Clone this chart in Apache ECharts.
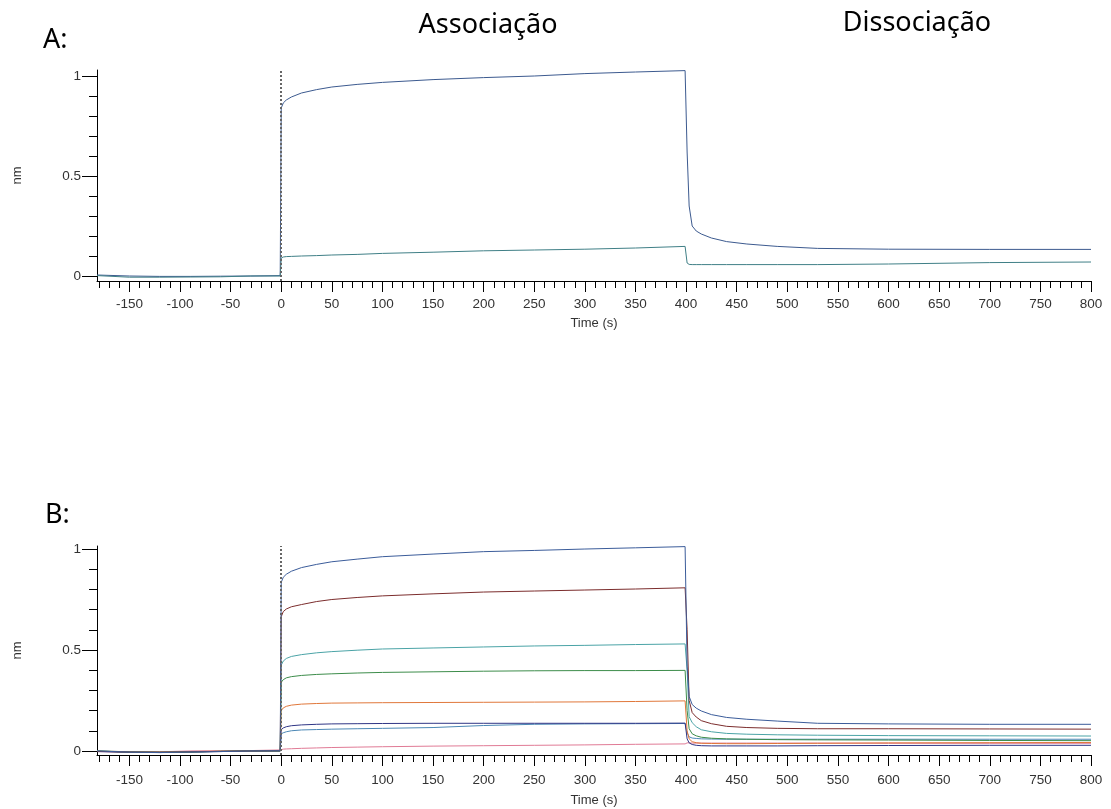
<!DOCTYPE html>
<html>
<head>
<meta charset="utf-8">
<title>Associação / Dissociação</title>
<script src="https://cdn.jsdelivr.net/npm/echarts@6/dist/echarts.min.js"></script>
<style>
  html, body { margin: 0; padding: 0; background: #fff; }
  .sensor { width: 1111px; height: 809px; }
</style>
</head>
<body>
<div class="sensor"></div>
<script>
// time points (s), shared by every curve
var times = [-182, -150, -120, -90, -60, -30, -1,
  0, 2, 5, 10, 20, 35, 50, 75, 100, 150, 200, 250, 300, 350, 399,
  400, 401, 403, 406, 410, 415, 425, 440, 460, 490, 530, 600, 700, 800];

// panel A (nm)
var a1 = [0.005, 0.0, -0.002, -0.002, -0.001, 0.0, 0.002,
  0.84, 0.865, 0.88, 0.895, 0.915, 0.932, 0.945, 0.958, 0.968, 0.982, 0.992, 1.0, 1.012, 1.02, 1.027,
  1.027, 0.62, 0.35, 0.25, 0.225, 0.21, 0.19, 0.172, 0.16, 0.148, 0.138, 0.134, 0.133, 0.133];
var a2 = [0.002, -0.006, -0.006, -0.005, -0.004, 0.0, 0.0,
  0.09, 0.095, 0.097, 0.098, 0.1, 0.102, 0.105, 0.108, 0.113, 0.119, 0.126, 0.13, 0.134, 0.14, 0.148,
  0.148, 0.065, 0.058, 0.057, 0.057, 0.057, 0.057, 0.057, 0.057, 0.057, 0.057, 0.06, 0.067, 0.07];

// panel B (nm)
var b1 = [0.0, -0.006, -0.008, -0.005, -0.003, 0.0, 0.001,
  0.835, 0.86, 0.875, 0.89, 0.908, 0.924, 0.937, 0.95, 0.962, 0.975, 0.987, 0.993, 1.0, 1.006, 1.012,
  1.015, 0.42, 0.27, 0.23, 0.212, 0.198, 0.18, 0.166, 0.157, 0.148, 0.137, 0.134, 0.132, 0.132];
var b2 = [-0.002, -0.005, -0.006, -0.004, -0.002, 0.0, 0.001,
  0.665, 0.69, 0.703, 0.714, 0.725, 0.74, 0.75, 0.76, 0.768, 0.778, 0.787, 0.792, 0.797, 0.802, 0.808,
  0.808, 0.6, 0.25, 0.19, 0.168, 0.15, 0.135, 0.122, 0.116, 0.112, 0.11, 0.11, 0.109, 0.108];
var b3 = [0.0, -0.004, -0.006, -0.004, -0.002, 0.0, 0.001,
  0.425, 0.445, 0.458, 0.468, 0.477, 0.486, 0.492, 0.499, 0.505, 0.51, 0.515, 0.52, 0.523, 0.527, 0.53,
  0.53, 0.4, 0.17, 0.14, 0.12, 0.105, 0.095, 0.087, 0.083, 0.08, 0.078, 0.076, 0.075, 0.074];
var b4 = [-0.001, -0.005, -0.007, -0.005, -0.002, 0.0, 0.0,
  0.34, 0.353, 0.362, 0.368, 0.374, 0.379, 0.382, 0.386, 0.389, 0.392, 0.395, 0.397, 0.398, 0.398, 0.399,
  0.399, 0.2, 0.11, 0.085, 0.075, 0.068, 0.063, 0.06, 0.058, 0.056, 0.055, 0.054, 0.052, 0.051];
var b5 = [0.0, -0.004, -0.005, -0.003, -0.001, 0.0, 0.001,
  0.2, 0.213, 0.221, 0.227, 0.232, 0.235, 0.237, 0.238, 0.239, 0.24, 0.241, 0.242, 0.243, 0.245, 0.248,
  0.248, 0.1, 0.06, 0.046, 0.041, 0.038, 0.037, 0.036, 0.036, 0.037, 0.038, 0.04, 0.041, 0.042];
var b6 = [-0.003, -0.007, -0.008, -0.006, -0.003, 0.0, 0.0,
  0.105, 0.114, 0.12, 0.125, 0.129, 0.132, 0.134, 0.135, 0.136, 0.137, 0.137, 0.137, 0.137, 0.137, 0.138,
  0.138, 0.06, 0.04, 0.032, 0.028, 0.026, 0.025, 0.025, 0.025, 0.025, 0.026, 0.027, 0.028, 0.028];
var b7 = [0.0, -0.005, -0.006, -0.004, -0.002, 0.0, 0.0,
  0.085, 0.09, 0.095, 0.1, 0.104, 0.106, 0.108, 0.11, 0.112, 0.116, 0.126, 0.132, 0.134, 0.135, 0.136,
  0.136, 0.09, 0.07, 0.064, 0.062, 0.06, 0.059, 0.058, 0.058, 0.058, 0.058, 0.058, 0.058, 0.058];
var b8 = [-0.003, -0.005, -0.004, 0.0, 0.001, 0.002, 0.005,
  0.008, 0.009, 0.01, 0.011, 0.013, 0.015, 0.017, 0.019, 0.021, 0.024, 0.026, 0.028, 0.03, 0.033, 0.035,
  0.035, 0.04, 0.04, 0.039, 0.039, 0.039, 0.039, 0.039, 0.039, 0.039, 0.039, 0.038, 0.038, 0.038];

// tick labels
var xMajor = [-150, -100, -50, 0, 50, 100, 150, 200, 250, 300, 350, 400, 450, 500, 550, 600, 650, 700, 750, 800];
var xMinor = [-180, -170, -160, -150, -140, -130, -120, -110, -100, -90, -80, -70, -60, -50, -40, -30, -20, -10,
  0, 10, 20, 30, 40, 50, 60, 70, 80, 90, 100, 110, 120, 130, 140, 150, 160, 170, 180, 190, 200,
  210, 220, 230, 240, 250, 260, 270, 280, 290, 300, 310, 320, 330, 340, 350, 360, 370, 380, 390, 400,
  410, 420, 430, 440, 450, 460, 470, 480, 490, 500, 510, 520, 530, 540, 550, 560, 570, 580, 590, 600,
  610, 620, 630, 640, 650, 660, 670, 680, 690, 700, 710, 720, 730, 740, 750, 760, 770, 780, 790, 800];
var yMajor = [0, 0.5, 1];
var yMinor = [0.1, 0.2, 0.3, 0.4, 0.6, 0.7, 0.8, 0.9];

(function () {
  var myChart = echarts.init(document.querySelector('.sensor'));

  var labelFont = 'Liberation Sans, Arial, sans-serif';
  var bigFont = '27px "Noto Sans", sans-serif';

  function pairs(vals) {
    return times.map(function (t, i) { return [t, vals[i]]; });
  }

  // bottom axes: one for minor ticks + line, one for long ticks + labels
  function xAxes(grid, gap, margin) {
    return [
      {
        type: 'value', gridIndex: grid, position: 'bottom', min: -182, max: 800,
        axisLine: { onZero: false, lineStyle: { color: '#000', width: 1 } },
        axisTick: { customValues: xMinor, length: 7, lineStyle: { color: '#000' } },
        axisLabel: { show: false },
        splitLine: { show: false }
      },
      {
        type: 'value', gridIndex: grid, position: 'bottom', min: -182, max: 800,
        axisLine: { show: false, onZero: false },
        axisTick: { customValues: xMajor, length: 11, lineStyle: { color: '#000' } },
        axisLabel: { customValues: xMajor, margin: margin, color: '#333', fontSize: 13.5, fontFamily: labelFont },
        splitLine: { show: false },
        name: 'Time (s)', nameLocation: 'middle', nameGap: gap,
        nameTextStyle: { color: '#333', fontSize: 13, fontFamily: labelFont }
      }
    ];
  }

  function yAxes(grid, min, max) {
    return [
      {
        type: 'value', gridIndex: grid, position: 'left', min: min, max: max,
        axisLine: { show: true, onZero: false, lineStyle: { color: '#000', width: 1 } },
        axisTick: { show: true, customValues: yMinor, length: 8, lineStyle: { color: '#000' } },
        axisLabel: { show: false },
        splitLine: { show: false }
      },
      {
        type: 'value', gridIndex: grid, position: 'left', min: min, max: max,
        axisLine: { show: false, onZero: false },
        axisTick: { show: true, customValues: yMajor, length: 15, lineStyle: { color: '#000' } },
        axisLabel: { customValues: yMajor, margin: 16, color: '#333', fontSize: 13.5, fontFamily: labelFont },
        splitLine: { show: false },
        name: 'nm', nameLocation: 'middle', nameGap: 73, nameRotate: 90,
        nameTextStyle: { color: '#333', fontSize: 13, fontFamily: labelFont }
      }
    ];
  }

  // dotted marker at t = 0 (start of association)
  var startLine = {
    silent: true,
    symbol: ['none', 'none'],
    label: { show: false },
    lineStyle: { type: [2, 2], color: '#666', width: 2 },
    data: [{ xAxis: 0 }]
  };

  function curve(name, vals, color, xi, yi, mark) {
    var s = {
      name: name, type: 'line', xAxisIndex: xi, yAxisIndex: yi,
      data: pairs(vals), showSymbol: false,
      lineStyle: { color: color, width: 1 }, itemStyle: { color: color }
    };
    if (mark) s.markLine = startLine;
    return s;
  }

  var option = {
    animation: false,
    grid: [
      { left: 97, top: 70, width: 994, height: 211 },
      { left: 97, top: 546, width: 994, height: 209 }
    ],
    xAxis: xAxes(0, 36, 16).concat(xAxes(1, 39, 18)),
    yAxis: yAxes(0, -0.025, 1.03).concat(yAxes(1, -0.02, 1.015)),
    series: [
      curve('A1', a1, '#3c5a8f', 0, 0, true),
      curve('A2', a2, '#3f7f86', 0, 0, false),
      curve('B8', b8, '#e07a95', 2, 2, true),
      curve('B7', b7, '#4b87b5', 2, 2, false),
      curve('B6', b6, '#2f3585', 2, 2, false),
      curve('B5', b5, '#e0773a', 2, 2, false),
      curve('B4', b4, '#3c8c4a', 2, 2, false),
      curve('B3', b3, '#4aa3a6', 2, 2, false),
      curve('B2', b2, '#7b2c2c', 2, 2, false),
      curve('B1', b1, '#3b5c9a', 2, 2, false)
    ],
    // panel letters and phase headings
    graphic: [
      { type: 'text', x: 43, y: 40, style: { text: 'A:', font: bigFont, fill: '#000', align: 'left', verticalAlign: 'middle' } },
      { type: 'text', x: 45, y: 515, style: { text: 'B:', font: bigFont, fill: '#000', align: 'left', verticalAlign: 'middle' } },
      { type: 'text', x: 488, y: 25, style: { text: 'Associação', font: bigFont, fill: '#000', align: 'center', verticalAlign: 'middle' } },
      { type: 'text', x: 917, y: 23, style: { text: 'Dissociação', font: bigFont, fill: '#000', align: 'center', verticalAlign: 'middle' } }
    ]
  };
  myChart.setOption(option);
  window.addEventListener('resize', function () {
    myChart.resize();
  });
})();
</script>
</body>
</html>
